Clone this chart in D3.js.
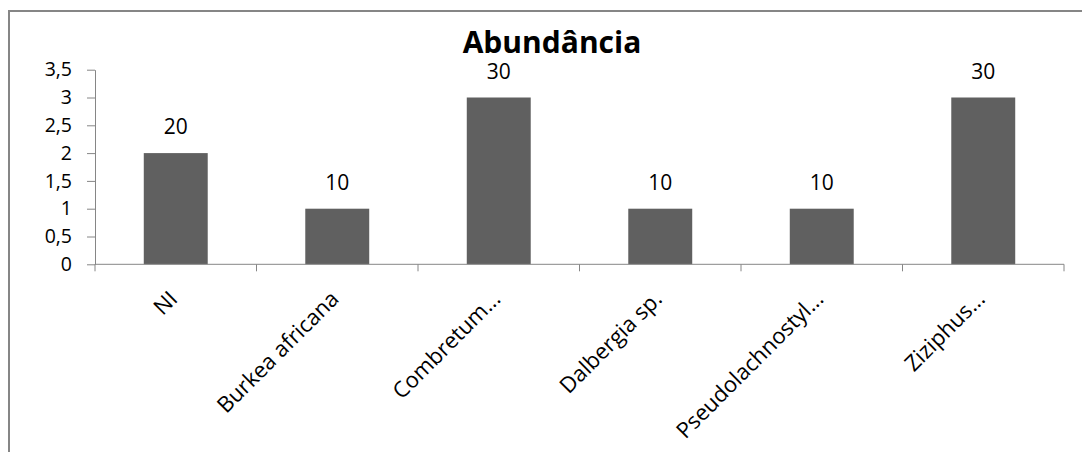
<!DOCTYPE html>
<html>
<head>
<meta charset="utf-8">
<script src="https://cdn.jsdelivr.net/npm/d3@7"></script>
<style>
  html, body { margin: 0; padding: 0; background: #fff; }
  svg { display: block; font-family: "Open Sans", sans-serif; }
</style>
</head>
<body>
<svg id="chart" width="1082" height="452"></svg>
<script>
// Species and their abundance
const categories = ["NI", "Burkea africana", "Combretum...", "Dalbergia sp.", "Pseudolachnostyl...", "Ziziphus..."];
const values = [2, 1, 3, 1, 1, 3];
const valueLabels = ["20", "10", "30", "10", "10", "30"];
const yTicks = [0, 0.5, 1, 1.5, 2, 2.5, 3, 3.5];
const title = "Abundância";

const svg = d3.select("#chart");
const axisColor = "#868686";

// Outer frame (right and bottom edges fall outside the view)
svg.append("rect")
  .attr("x", 9).attr("y", 11)
  .attr("width", 1200).attr("height", 600)
  .attr("fill", "none")
  .attr("stroke", axisColor)
  .attr("stroke-width", 2);

const plot = { left: 95, right: 1064, top: 69.7, bottom: 264.3 };

const x = d3.scaleBand()
  .domain(categories)
  .range([plot.left, plot.right])
  .paddingInner(0.604)
  .paddingOuter(0.302);

const y = d3.scaleLinear()
  .domain([0, 3.5])
  .range([plot.bottom, plot.top]);

const fmt = v => String(v).replace(".", ",");

// Y axis
const yAxis = svg.append("g")
  .attr("transform", `translate(${plot.left},0)`)
  .call(d3.axisLeft(y).tickValues(yTicks).tickFormat(fmt).tickSizeInner(8).tickSizeOuter(0).tickPadding(15));
yAxis.select(".domain").attr("stroke", axisColor);
yAxis.selectAll(".tick line").attr("stroke", axisColor);
yAxis.selectAll(".tick text")
  .attr("fill", "#000")
  .style("font-size", "19.5px")
  .style("font-family", "'Open Sans', sans-serif");

// Bars
svg.append("g").selectAll("rect")
  .data(values)
  .join("rect")
  .attr("x", (d, i) => x(categories[i]))
  .attr("y", d => y(d))
  .attr("width", x.bandwidth())
  .attr("height", d => y(0) - y(d))
  .attr("fill", "#606060");

// X axis line with ticks at category boundaries
const boundaries = d3.range(categories.length + 1).map(i => plot.left + i * x.step());
svg.append("line")
  .attr("x1", plot.left).attr("x2", plot.right)
  .attr("y1", plot.bottom).attr("y2", plot.bottom)
  .attr("stroke", axisColor);
svg.append("g").selectAll("line")
  .data(boundaries)
  .join("line")
  .attr("x1", d => d).attr("x2", d => d)
  .attr("y1", plot.bottom).attr("y2", plot.bottom + 7)
  .attr("stroke", axisColor);

// Category labels, rotated
svg.append("g").selectAll("text")
  .data(categories)
  .join("text")
  .attr("transform", d => `translate(${x(d) + x.bandwidth() / 2 + 3},${plot.bottom + 36}) rotate(-45)`)
  .attr("text-anchor", "end")
  .attr("fill", "#000")
  .style("font-size", "22px")
  .text(d => d);

// Value labels above bars
svg.append("g").selectAll("text")
  .data(values)
  .join("text")
  .attr("x", (d, i) => x(categories[i]) + x.bandwidth() / 2)
  .attr("y", d => y(d) - 19)
  .attr("text-anchor", "middle")
  .attr("fill", "#000")
  .style("font-size", "21px")
  .text((d, i) => valueLabels[i]);

// Title
svg.append("text")
  .attr("x", 552).attr("y", 53.3)
  .attr("text-anchor", "middle")
  .attr("fill", "#000")
  .style("font-size", "30px")
  .style("font-weight", "bold")
  .text(title);
</script>
</body>
</html>
